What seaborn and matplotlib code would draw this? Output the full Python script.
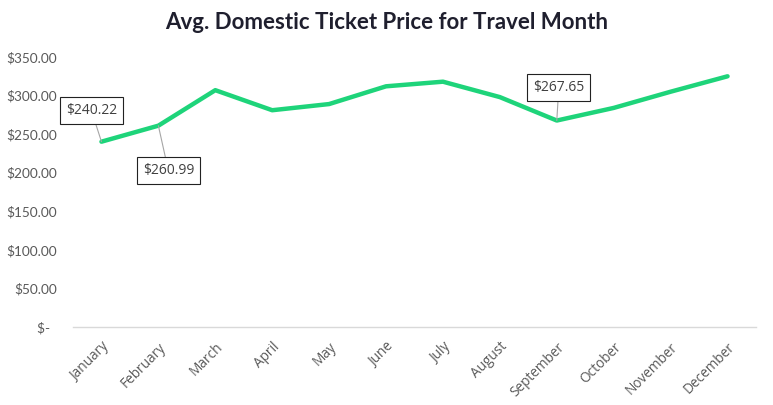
import matplotlib
matplotlib.use("Agg")
import matplotlib.pyplot as plt
import seaborn as sns
import pandas as pd
from matplotlib.ticker import FuncFormatter

months = ["January", "February", "March", "April", "May", "June", "July",
          "August", "September", "October", "November", "December"]
prices = [240.22, 260.99, 307, 281, 289, 312, 318, 298, 267.65, 284, 305, 325]
labeled = {"January": (-10, 31), "February": (10, -45), "September": (2, 33)}
yticks = [0, 50, 100, 150, 200, 250, 300, 350]
title = "Avg. Domestic Ticket Price for Travel Month"

df = pd.DataFrame({"month": months, "price": prices})

sns.set_theme(style="white")
plt.rcParams["font.family"] = ["Open Sans", "DejaVu Sans"]

fig = plt.figure(figsize=(7.73, 4.05), dpi=100)
ax = fig.add_axes([73 / 773, 1 - 327 / 405, (756 - 73) / 773, (327 - 57) / 405])

sns.lineplot(data=df, x="month", y="price", ax=ax, color="#1ed47a", lw=3.2, sort=False)

ax.set_ylim(0, 350)
ax.set_xlim(-0.5, len(months) - 0.5)
ax.set_yticks(yticks)
ax.yaxis.set_major_formatter(FuncFormatter(lambda v, p: "$-  " if v == 0 else f"${v:,.2f}"))
ax.set_xlabel("")
ax.set_ylabel("")
for s in ["top", "right", "left"]:
    ax.spines[s].set_visible(False)
ax.spines["bottom"].set_color("#d9d9d9")
ax.spines["bottom"].set_linewidth(1)
ax.tick_params(axis="both", length=0, colors="#595959")
ax.tick_params(axis="y", pad=11.5)
ax.tick_params(axis="x", pad=9)
for lab in ax.get_yticklabels():
    lab.set_fontfamily(["Lato", "DejaVu Sans"])
    lab.set_fontsize(9.8)
for lab in ax.get_xticklabels():
    lab.set_rotation(45)
    lab.set_ha("right")
    lab.set_va("top")
    lab.set_rotation_mode("anchor")
    lab.set_fontsize(9.8)

for m, (dx, dy) in labeled.items():
    i = months.index(m)
    v = prices[i]
    ax.annotate(f"${v:,.2f}", xy=(i, v), xytext=(dx, dy), textcoords="offset pixels",
                ha="center", va="center", fontsize=10, color="#404040",
                bbox=dict(boxstyle="square,pad=0.42", fc="white", ec="#222222", lw=0.8),
                arrowprops=dict(arrowstyle="-", color="#a6a6a6", lw=0.8, shrinkA=0, shrinkB=0))

fig.text(0.5, 0.945, title, ha="center", va="center", fontsize=16, fontweight="bold",
         color="#1f1f2e", family=["Lato", "DejaVu Sans"])

fig.savefig("out.png", dpi=100)
